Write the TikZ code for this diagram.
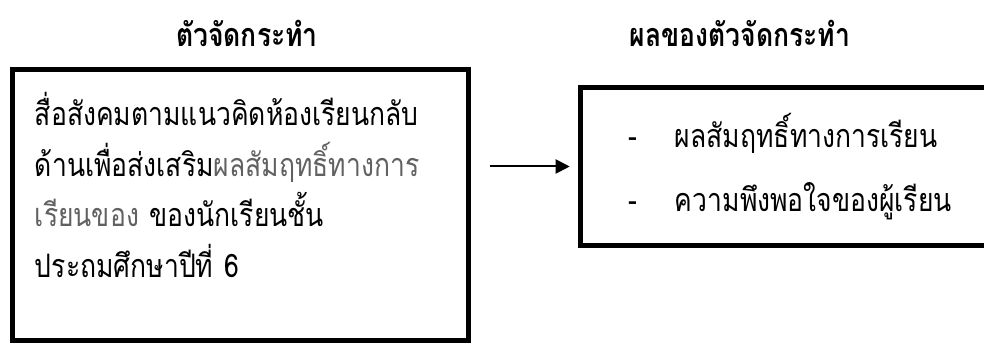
\documentclass[tikz,border=0pt]{standalone}
\usepackage{fontspec}
\usepackage{xcolor}
\usetikzlibrary{arrows.meta}
\usetikzlibrary{calc}
\newfontfamily\thaifont[Script=Thai, FakeStretch=0.82]{Loma}
\definecolor{fadedtext}{gray}{0.38}

\begin{document}
\begin{tikzpicture}[
    heading/.style={font=\thaifont\bfseries\fontsize{23}{26}\selectfont},
    framebox/.style={draw, line width=0.125cm, anchor=center},
    boxtext/.style={font=\thaifont\fontsize{23}{36}\selectfont, align=left}
  ]

      % Page
      \useasboundingbox (0,0) rectangle (24.6,8.575);
      \clip (0,0) rectangle (24.6,8.575);

      % Headings
      \node[heading] (treatTitle) at (6.175,7.75) {ตัวจัดกระทำ};
      \node[heading] (effectTitle) at (18.5,7.75) {ผลของตัวจัดกระทำ};

      % Boxes
      \node[framebox, minimum width=11.4cm, minimum height=6.75cm] (treatBox) at (6.0,3.45) {};
      \node[boxtext, text width=10.25cm] (treatText) at ($(treatBox.center)+(0,0.5)$)
        {สื่อสังคมตามแนวคิดห้องเรียนกลับ\\
         ด้านเพื่อส่งเสริม{\color{fadedtext}ผลสัมฤทธิ์ทางการ}\\
         {\color{fadedtext}เรียนของ} ของนักเรียนชั้น\\
         ประถมศึกษาปีที่ 6};
      \node[boxtext, font=\thaifont\fontsize{23}{45.5}\selectfont,
            anchor=center, minimum width=11.5cm, minimum height=3.925cm,
            inner xsep=1.175cm, text width=9.15cm] (effectBox) at (20.275,4.4125)
        {\begin{tabular}{@{}p{1.175cm}@{}l@{}}
           - & ผลสัมฤทธิ์ทางการเรียน\\
           - & ความพึงพอใจของผู้เรียน
         \end{tabular}};
      % right side runs off the page
      \draw[line width=0.125cm] (effectBox.north east) -- (effectBox.north west)
        -- (effectBox.south west) -- (effectBox.south east);

      % Arrow
      \draw[line width=0.05cm, -{Triangle[length=0.35cm,width=0.35cm]},
            shorten <=0.475cm, shorten >=0.275cm]
        (treatBox.east |- effectBox.west) -- (effectBox.west);

\end{tikzpicture}
\end{document}
